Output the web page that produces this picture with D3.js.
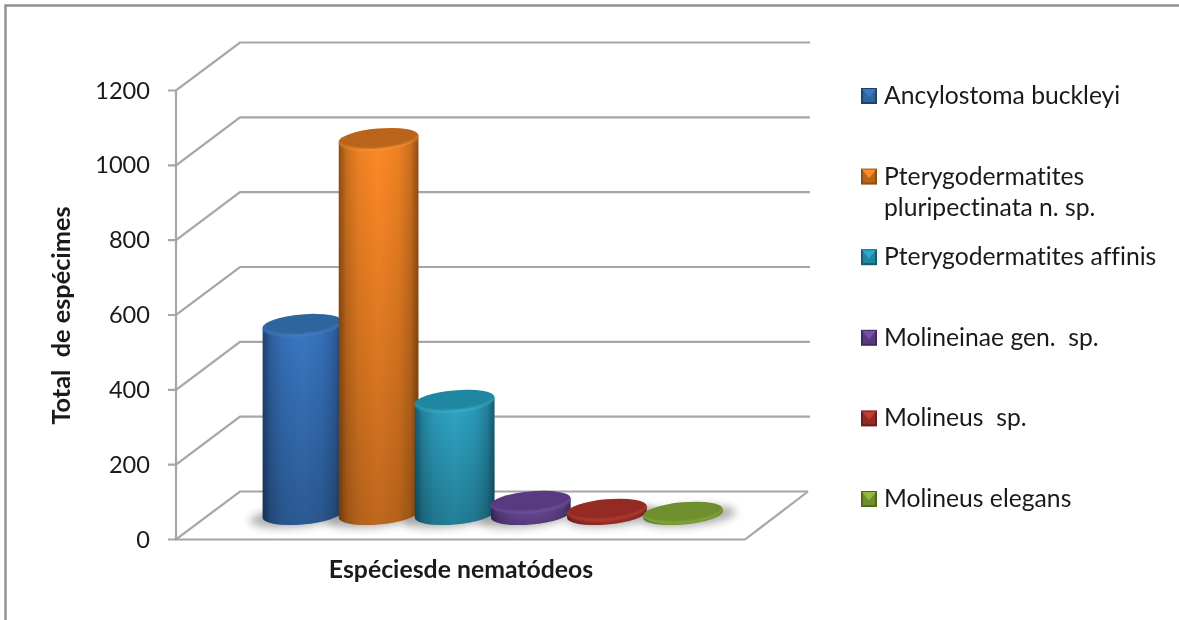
<!DOCTYPE html>
<html><head><meta charset="utf-8">
<script src="https://cdnjs.cloudflare.com/ajax/libs/d3/7.8.5/d3.min.js"></script>
<style>html,body{margin:0;padding:0;background:#fff;overflow:hidden}svg{display:block;filter:blur(0.35px)}text{font-family:Lato,Carlito,"Noto Sans",sans-serif;fill:#1a1a1a;font-variant-ligatures:none;white-space:pre}</style>
</head><body><div id="c"></div>
<script>
const species = ["Ancylostoma buckleyi","Pterygodermatites pluripectinata n. sp.","Pterygodermatites affinis","Molineinae gen.  sp.","Molineus  sp.","Molineus elegans"];
const legendLines = [["Ancylostoma buckleyi"],["Pterygodermatites","pluripectinata n. sp."],["Pterygodermatites affinis"],["Molineinae gen.  sp."],["Molineus  sp."],["Molineus elegans"]];
const totals = [508,1005,305,35,14,6];
const tickValues = [0,200,400,600,800,1000,1200];
const sideLight = ["#3a78c4","#ff8a26","#2fa8c8","#7450a6","#c23a32","#90bb40"];
const sideDark = ["#1d4171","#8f4d12","#155a6e","#3f2a5e","#6e1c18","#50691f"];
const topColor = ["#2f659f","#b9641a","#1f87a2","#59397f","#932a24","#6f8e2e"];
const rimColor = ["#5f97dc","#ffae5c","#5cc8e2","#8f6cc0","#e0584f","#a9d05a"];
const yTitle = "Total  de espécimes", xTitle = "Espéciesde nematódeos";

const W=1179,H=620;
const svg=d3.select("#c").append("svg").attr("width",W).attr("height",H);
const defs=svg.append("defs");
defs.append("filter").attr("id","blur").attr("x","-30%").attr("y","-80%").attr("width","160%").attr("height","260%")
  .append("feGaussianBlur").attr("stdDeviation",4);
defs.append("filter").attr("id","soft").attr("x","-10%").attr("y","-40%").attr("width","120%").attr("height","180%")
  .append("feGaussianBlur").attr("stdDeviation",1);
const fade=defs.append("linearGradient").attr("id","fade").attr("x1",0).attr("y1",0).attr("x2",0).attr("y2",1);
fade.append("stop").attr("offset",0).attr("stop-color","#000").attr("stop-opacity",0);
fade.append("stop").attr("offset",1).attr("stop-color","#000").attr("stop-opacity",0.25);
species.forEach((s,i)=>{
  const g=defs.append("linearGradient").attr("id","side"+i).attr("x1",0).attr("y1",0).attr("x2",1).attr("y2",0);
  const mix=d3.interpolateRgb(sideDark[i],sideLight[i]);
  [[0,sideDark[i]],[0.1,mix(0.55)],[0.25,mix(0.85)],[0.5,sideLight[i]],[0.75,mix(0.85)],[0.9,mix(0.55)],[1,sideDark[i]]]
    .forEach(([o,c])=>g.append("stop").attr("offset",o).attr("stop-color",c));
});

// frame
const frameColor="#8f8f8f";
svg.append("path").attr("d",`M5.5 ${H+5}V5.5H${W+5}`).attr("fill","none").attr("stroke",frameColor).attr("stroke-width",2.4);

const y=d3.scaleLinear().domain([0,1200]).range([539.5,90.5]);
const depthX=64, depthY=48;
const axisX=176, wallRight=810, floorRight=745;
const grid="#a6a6a6";
const gAxis=svg.append("g").attr("stroke",grid).attr("stroke-width",2.2).attr("fill","none");
tickValues.forEach(t=>{
  const right = t===0 ? wallRight-2 : wallRight;
  gAxis.append("path").attr("d",`M${axisX-8} ${y(t)}H${axisX}L${axisX+depthX} ${y(t)-depthY}H${right}`);
});
gAxis.append("path").attr("d",`M${axisX} ${y(1200)}V${y(0)}H${floorRight}L${wallRight-2} ${y(0)-depthY}`);

svg.append("g").selectAll("text").data(tickValues).join("text")
  .attr("x",150).attr("y",d=>y(d)+8).attr("text-anchor","end").attr("font-size",23.6).text(d=>d);

svg.append("text").attr("transform","translate(70,315.5) rotate(-90)").attr("text-anchor","middle")
  .attr("font-size",25.3).attr("font-weight",700).text(yTitle);
svg.append("text").attr("x",461).attr("y",578).attr("text-anchor","middle")
  .attr("font-size",24.8).attr("font-weight",700).text(xTitle);

// cylinders
const cx=d3.scalePoint().domain(species).range([302.5,683]);
const rx=40, ry=10, rot=-5, depthBase=25;
const th=rot*Math.PI/180;
const X=Math.sqrt(rx*rx*Math.cos(th)**2+ry*ry*Math.sin(th)**2);
const dY=(rx*rx-ry*ry)*Math.sin(th)*Math.cos(th)/X;
const gShadow=svg.append("g"), gBars=svg.append("g");
species.forEach((s,i)=>{
  const c=cx(s), b=y(0)-depthBase;
  gShadow.append("ellipse").attr("cx",c+(i>=4?6:-6)).attr("cy",b+2).attr("rx",rx+7).attr("ry",ry)
    .attr("transform",`rotate(${rot} ${c} ${b})`).attr("fill","#777").attr("opacity",.6).attr("filter","url(#blur)");
});
species.forEach((s,i)=>{
  const c=cx(s), b=y(0)-depthBase, t=y(totals[i])-depthBase;
  const g=gBars.append("g");
  const d=`M${c-X} ${t-dY}V${b-dY}A${rx} ${ry} ${rot} 0 0 ${c+X} ${b+dY}V${t+dY}Z`;
  g.append("path").attr("d",d).attr("fill",`url(#side${i})`);
  g.append("path").attr("d",d).attr("fill","url(#fade)");
  g.append("ellipse").attr("cx",c).attr("cy",t).attr("rx",rx).attr("ry",ry)
    .attr("transform",`rotate(${rot} ${c} ${t})`).attr("fill",topColor[i]);
  g.append("path").attr("d",`M${c-X} ${t-dY}A${rx} ${ry} ${rot} 0 0 ${c+X} ${t+dY}`)
    .attr("fill","none").attr("stroke",rimColor[i]).attr("stroke-width",1.6).attr("opacity",.55).attr("filter","url(#soft)");
});

// legend
const ly=d3.scalePoint().domain(species).range([96,499]);
const lg=svg.append("g");
species.forEach((s,i)=>{
  const c=ly(s), x0=861, sz=16, top=c-sz/2;
  const g=lg.append("g");
  g.append("rect").attr("x",x0).attr("y",top).attr("width",sz).attr("height",sz).attr("fill",sideDark[i]);
  g.append("rect").attr("x",x0+2).attr("y",top+2).attr("width",sz-4).attr("height",sz-4).attr("fill",topColor[i]);
  g.append("path").attr("d",`M${x0+1} ${top+1}H${x0+sz-1}L${x0+sz/2} ${top+sz*0.6}Z`).attr("fill",sideLight[i]);
  legendLines[i].forEach((l,k)=>{
    lg.append("text").attr("x",884).attr("y",c+8+k*31).attr("font-size",24.7)
      .text(l);
  });
});
</script></body></html>
